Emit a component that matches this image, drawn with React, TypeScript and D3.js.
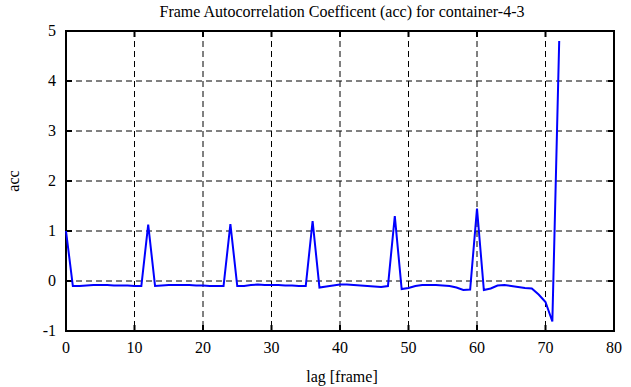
import React, { useEffect, useRef } from 'react';
import * as d3 from 'd3';

// acc values for lag 0..72
const lags = d3.range(0, 73);
const acc = [
  1.0, -0.1, -0.1, -0.09, -0.08, -0.08, -0.08, -0.09, -0.09, -0.09, -0.1, -0.1,
  1.13, -0.1, -0.09, -0.08, -0.08, -0.08, -0.08, -0.09, -0.09, -0.1, -0.1, -0.1,
  1.14, -0.1, -0.1, -0.08, -0.07, -0.08, -0.08, -0.08, -0.09, -0.09, -0.1, -0.1,
  1.2, -0.13, -0.11, -0.09, -0.07, -0.07, -0.08, -0.09, -0.1, -0.11, -0.12, -0.1,
  1.3, -0.16, -0.14, -0.1, -0.08, -0.08, -0.08, -0.09, -0.1, -0.13, -0.18, -0.17,
  1.45, -0.18, -0.15, -0.09, -0.08, -0.1, -0.12, -0.14, -0.15, -0.27, -0.42, -0.81,
  4.8,
];
const xTicks = [0, 10, 20, 30, 40, 50, 60, 70, 80];
const yTicks = [-1, 0, 1, 2, 3, 4, 5];

const W = 631, H = 387;
const margin = { top: 31, right: 17, bottom: 56, left: 66 };

const App = () => {
  const ref = useRef<SVGSVGElement>(null);

  useEffect(() => {
    const svg = d3.select(ref.current);
    svg.selectAll('*').remove();
    const w = W - margin.left - margin.right;
    const h = H - margin.top - margin.bottom;
    const font = '"Liberation Serif", "Times New Roman", serif';

    const x = d3.scaleLinear().domain([0, 80]).range([0, w]);
    const y = d3.scaleLinear().domain([-1, 5]).range([h, 0]);

    const g = svg.append('g').attr('transform', `translate(${margin.left},${margin.top})`);

    // grid
    g.selectAll('.vgrid').data(xTicks.slice(1, -1)).enter().append('line')
      .attr('x1', d => x(d)).attr('x2', d => x(d)).attr('y1', 0).attr('y2', h)
      .attr('stroke', '#000').attr('stroke-dasharray', '6,4').attr('stroke-width', 1);
    g.selectAll('.hgrid').data(yTicks.slice(1, -1)).enter().append('line')
      .attr('y1', d => y(d)).attr('y2', d => y(d)).attr('x1', 0).attr('x2', w)
      .attr('stroke', '#000').attr('stroke-dasharray', '6,4').attr('stroke-width', 1);

    // ticks (inward, all sides)
    const tl = 6;
    xTicks.forEach(t => {
      g.append('line').attr('x1', x(t)).attr('x2', x(t)).attr('y1', h).attr('y2', h - tl).attr('stroke', '#000').attr('stroke-width', 2);
      g.append('line').attr('x1', x(t)).attr('x2', x(t)).attr('y1', 0).attr('y2', tl).attr('stroke', '#000').attr('stroke-width', 2);
      g.append('text').attr('x', x(t)).attr('y', h + 22).attr('text-anchor', 'middle')
        .attr('font-family', font).attr('font-size', 16).text(t);
    });
    yTicks.forEach(t => {
      g.append('line').attr('x1', 0).attr('x2', tl).attr('y1', y(t)).attr('y2', y(t)).attr('stroke', '#000').attr('stroke-width', 2);
      g.append('line').attr('x1', w).attr('x2', w - tl).attr('y1', y(t)).attr('y2', y(t)).attr('stroke', '#000').attr('stroke-width', 2);
      g.append('text').attr('x', -10).attr('y', y(t) + 5).attr('text-anchor', 'end')
        .attr('font-family', font).attr('font-size', 16).text(t);
    });

    // frame
    g.append('rect').attr('x', 0).attr('y', 0).attr('width', w).attr('height', h)
      .attr('fill', 'none').attr('stroke', '#000').attr('stroke-width', 2);

    // line
    const data = lags.map((l, i) => ({ lag: l, v: acc[i] }));
    g.append('path').datum(data)
      .attr('d', d3.line<{ lag: number; v: number }>().x(d => x(d.lag)).y(d => y(d.v)))
      .attr('fill', 'none').attr('stroke', '#0000ff').attr('stroke-width', 2);

    // labels
    svg.append('text').attr('x', margin.left + w / 2 + 2).attr('y', 17).attr('text-anchor', 'middle')
      .attr('font-family', font).attr('font-size', 16).text('Frame Autocorrelation Coefficent (acc) for container-4-3');
    svg.append('text').attr('x', margin.left + w / 2 + 2).attr('y', 382).attr('text-anchor', 'middle')
      .attr('font-family', font).attr('font-size', 16).text('lag [frame]');
    svg.append('text').attr('transform', `translate(19,${margin.top + h / 2}) rotate(-90)`).attr('text-anchor', 'middle')
      .attr('font-family', font).attr('font-size', 16).text('acc');
  }, []);

  return (
    <svg ref={ref} width={W} height={H}
      style={{ position: 'absolute', left: 0, top: 0, background: '#fff' }} />
  );
};

export default App;
